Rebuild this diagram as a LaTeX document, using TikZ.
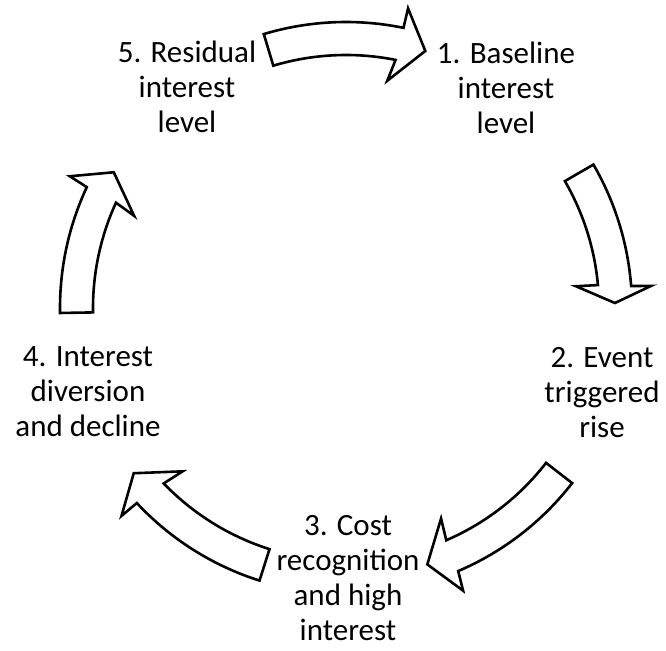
\documentclass[tikz,border=0pt]{standalone}
\usepackage{fontspec}
\setmainfont{Carlito}
\begin{document}
\begin{tikzpicture}[x=1pt,y=1pt,
  stage/.style={align=center,inner sep=0pt,font=\fontsize{31}{35}\selectfont},
  blockline/.style={draw=black,fill=white,line width=2.6pt,line join=miter},
  % curved block arrow around the local origin:
  % #1 tail angle, #2 tip angle, #3 outer barb, #4 outer notch, #5 inner barb, #6 inner notch
  pics/bentarrow/.style n args={6}{code={
    \draw[blockline] (#1:286) arc[start angle=#1, end angle=#4, radius=286]
      -- (#3:306) -- (#2:269) -- (#5:231) -- (#6:253)
      arc[start angle=#6, end angle=#1, radius=253] -- cycle;
  }}]
\useasboundingbox (0,0) rectangle (666,650);
\coordinate (hub) at (346,342);

% stage labels
\node[stage] (s1) at (506,562) {1. Baseline\\interest\\level};
\node[stage] (s2) at (602,257) {2. Event\\triggered\\rise};
\node[stage] (s3) at (348,72) {3. Cost\\recognition\\and high\\interest};
\node[stage] (s4) at (88,258) {4. Interest\\diversion\\and decline};
\node[stage] (s5) at (187,563) {5. Residual\\interest\\level};

% block arrows on the cycle
\pic at (hub) {bentarrow={106.7}{72.85}{78.3}{78.4}{79.7}{78.7}};
\pic at (hub) {bentarrow={30.1}{1.06}{4.15}{4.4}{5.4}{5.2}};
\pic at (hub) {bentarrow={-37.75}{-72.4}{-67.5}{-66.9}{-65.7}{-66.65}};
\pic at (hub) {bentarrow={-107.6}{-142.1}{-137.2}{-137.0}{-135}{-136.1}};
\pic at (hub) {bentarrow={181}{149.7}{154.5}{155.0}{156.5}{155.4}};
\end{tikzpicture}
\end{document}
